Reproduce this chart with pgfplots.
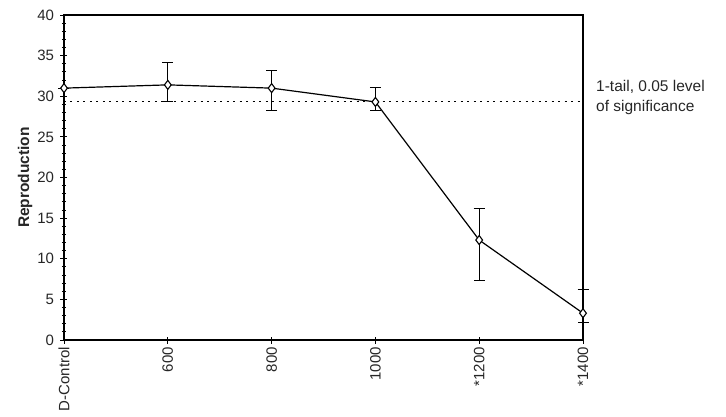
\documentclass[border=0pt]{standalone}
\usepackage{fontspec}
\setmainfont{Liberation Sans}
\usepackage{pgfplots}
\pgfplotsset{compat=1.18}

\begin{document}
\begin{tikzpicture}
\begin{axis}[
  scale only axis,
  width=519pt, height=325pt,
  xmin=0, xmax=5, ymin=0, ymax=40,
  xtick={0,1,2,3,4,5},
  xticklabels={D-Control,600,800,1000,*1200,*1400},
  x tick label style={rotate=90, anchor=east, font=\fontsize{15}{17}\selectfont, color=black!85},
  ytick={0,5,...,40},
  minor y tick num=4,
  y tick label style={font=\fontsize{15}{17}\selectfont, color=black!85, xshift=-3pt},
  xtick pos=bottom, ytick pos=left,
  tick align=center,
  major tick length=7pt, minor tick length=4pt,
  axis line style={line width=1.1pt},
  every tick/.style={black, line width=0.9pt},
  ylabel={Reproduction},
  ylabel style={font=\fontsize{15.5}{17}\selectfont\bfseries, color=black!85},
  ylabel shift=-2pt,
  /pgf/number format/assume math mode=true,
  clip=false,
]
% significance threshold
\addplot[black, line width=1pt, dash pattern=on 2pt off 4.5pt] coordinates {(0,29.3) (5,29.3)};
\node[anchor=west, align=left, font=\fontsize{15.5}{20}\selectfont, inner sep=0pt, color=black!85]
  at (axis cs:5,29.8) [xshift=13pt] {1-tail, 0.05 level\\ of significance};

% mean reproduction with error bars
\addplot[black, line width=1.2pt,
  mark=diamond*, mark size=4.5pt,
  mark options={fill=white, draw=black, line width=1.1pt},
  error bars/.cd, y dir=both, y explicit,
  error bar style={line width=1.1pt},
  error mark options={rotate=90, mark size=5.5pt, line width=1.1pt}]
  coordinates {
    (0,31.0) +- (0,0)
    (1,31.4) += (0,2.8) -= (0,2.1)
    (2,31.0) += (0,2.2) -= (0,2.8)
    (3,29.3) += (0,1.8) -= (0,1.0)
    (4,12.3) += (0,3.9) -= (0,5.0)
    (5,3.3)  += (0,2.9) -= (0,1.1)
  };
\end{axis}
\useasboundingbox (-64pt,-76pt) rectangle (662pt,340pt);
\end{tikzpicture}
\end{document}
